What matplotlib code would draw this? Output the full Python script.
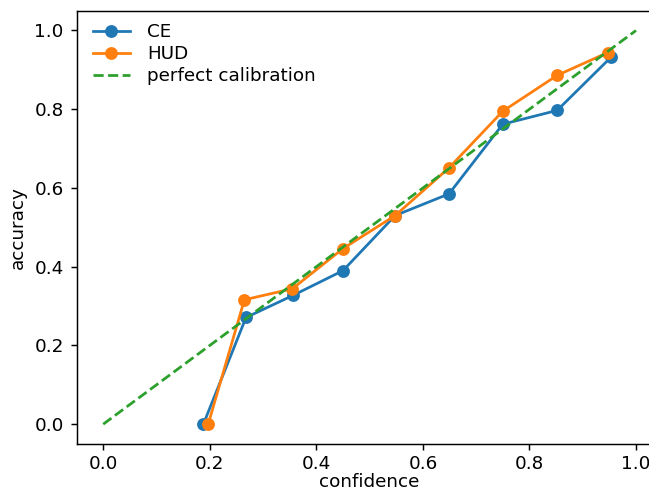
import matplotlib
matplotlib.use('Agg')
from matplotlib import pyplot as plt

# reliability diagram values
ce_conf = [0.188, 0.268, 0.356, 0.450, 0.548, 0.649, 0.750, 0.852, 0.953]
ce_acc = [0.0, 0.271, 0.327, 0.390, 0.530, 0.585, 0.762, 0.797, 0.932]
hud_conf = [0.197, 0.265, 0.355, 0.450, 0.548, 0.649, 0.750, 0.852, 0.947]
hud_acc = [0.0, 0.316, 0.344, 0.446, 0.530, 0.651, 0.795, 0.886, 0.944]
diag = [0.0, 1.0]

dpi = 132
fig = plt.figure(figsize=(649 / dpi, 491 / dpi), dpi=dpi)
# right edge of the axes runs past the figure, as in the (cropped) reference
ax = fig.add_axes([0.118, 0.096, 0.903, 0.882])

ax.plot(ce_conf, ce_acc, marker='o', label='CE')
ax.plot(hud_conf, hud_acc, marker='o', label='HUD')
ax.plot(diag, diag, '--', label='perfect calibration')

ax.set_xlim(-0.05, 1.05)
ax.set_ylim(-0.05, 1.05)
ax.spines['right'].set_visible(False)
ax.tick_params(axis='x', pad=2.5)
ax.set_xlabel('confidence', labelpad=0.3)
ax.set_ylabel('accuracy')
ax.legend(loc='upper left', bbox_to_anchor=(0, 1.009), frameon=False,
          labelspacing=0.22, handletextpad=0.95)

fig.savefig('out.png', dpi=dpi)
